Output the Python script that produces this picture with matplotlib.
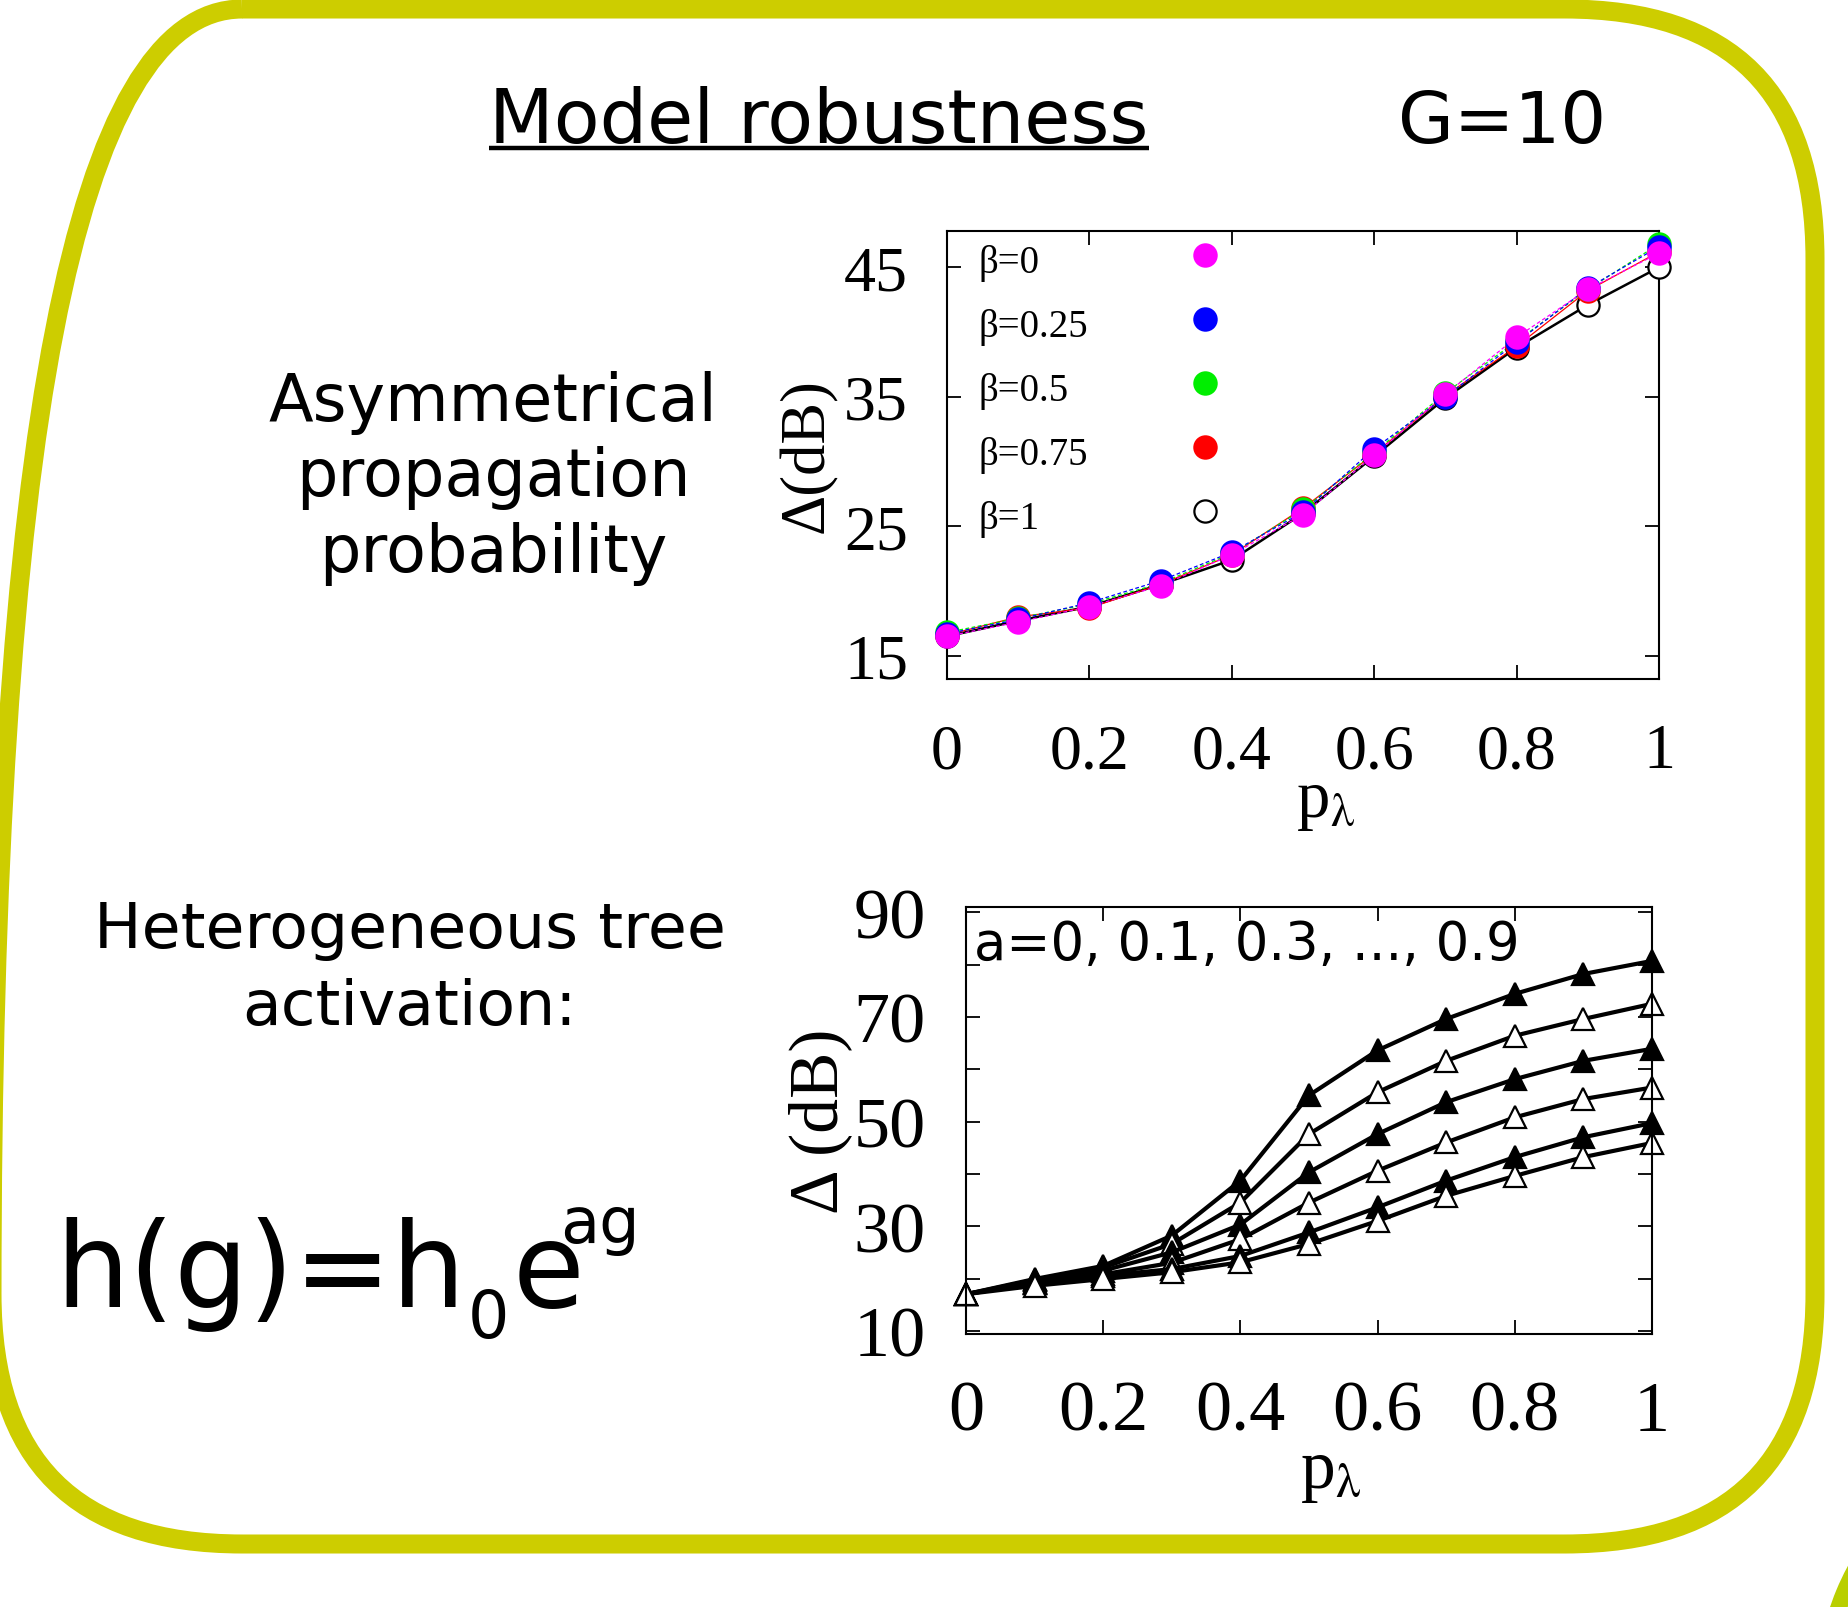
import matplotlib
matplotlib.use("Agg")
import matplotlib.pyplot as plt
from matplotlib.patches import FancyBboxPatch, Arc

plt.rcParams['font.family'] = ['DejaVu Sans']
plt.rcParams['mathtext.fontset'] = 'stix'

SERIF = 'Liberation Serif'

# ---- data: asymmetrical propagation probability (G=10) ----
p_lambda = [0.0, 0.1, 0.2, 0.3, 0.4, 0.5, 0.6, 0.7, 0.8, 0.9, 1.0]
delta_beta_0 = [16.5, 17.6, 18.8, 20.4, 22.8, 25.9, 30.5, 35.2, 39.6, 43.3, 46.1]
delta_beta_025 = [16.7, 17.8, 19.1, 20.8, 23.0, 26.1, 31.0, 35.0, 39.2, 43.4, 46.6]
delta_beta_05 = [16.8, 17.9, 19.0, 20.6, 22.9, 26.3, 30.7, 35.3, 39.3, 43.3, 46.8]
delta_beta_075 = [16.6, 18.0, 18.7, 20.5, 22.8, 26.4, 30.6, 35.1, 38.9, 43.2, 46.2]
delta_beta_1 = [16.5, 17.7, 18.8, 20.5, 22.4, 26.0, 30.4, 34.9, 38.8, 42.1, 45.0]
beta_labels = ["β=0", "β=0.25", "β=0.5", "β=0.75", "β=1"]

# ---- data: heterogeneous tree activation, a = 0, 0.1, 0.3, ..., 0.9 ----
delta_a0 = [17.0, 18.6, 19.9, 21.2, 23.1, 26.6, 31.0, 35.8, 39.6, 43.2, 45.9]
delta_a01 = [17.0, 19.1, 20.5, 21.8, 24.3, 28.8, 33.6, 38.7, 43.2, 47.0, 49.7]
delta_a03 = [17.0, 19.2, 20.8, 23.0, 27.5, 34.5, 40.6, 46.0, 50.8, 54.3, 56.5]
delta_a05 = [17.0, 19.4, 21.5, 25.0, 30.3, 40.3, 47.6, 53.7, 58.1, 61.6, 63.9]
delta_a07 = [17.0, 19.7, 22.1, 26.6, 34.5, 47.6, 55.6, 61.6, 66.4, 69.6, 72.5]
delta_a09 = [17.0, 19.9, 22.4, 28.2, 38.7, 55.0, 63.6, 69.6, 74.4, 78.2, 80.7]

x_ticks = [0, 0.2, 0.4, 0.6, 0.8, 1.0]
x_ticklabels = ["0", "0.2", "0.4", "0.6", "0.8", "1"]
top_yticks = [15, 25, 35, 45]
bot_yticks = [10, 30, 50, 70, 90]
bot_yminor = [20, 40, 60, 80]

fig = plt.figure(figsize=(18.49, 16.08), dpi=100)

# background layer in pixel units for the frame and free text
bg = fig.add_axes([0, 0, 1, 1])
bg.set_xlim(0, 1849)
bg.set_ylim(1608, 0)
bg.axis('off')
bg.add_patch(FancyBboxPatch((-8, 10), 1823, 1535, boxstyle="round,pad=0,rounding_size=250",
                            fc='none', ec='#cdcd00', lw=13.7))
bg.add_patch(Arc((2075, 1690), 500, 500, ec='#b9cf00', lw=12))

renderer = fig.canvas.get_renderer()

title = bg.text(819, 143, "Model robustness", fontsize=54, ha='center', va='baseline')
bb = title.get_window_extent(renderer)
bg.plot([bb.x0, bb.x1], [149, 149], color='black', lw=3.2, solid_capstyle='butt')
bg.text(1398, 143, "G=10", fontsize=52, va='baseline')

for line, y in zip(["Asymmetrical", "propagation", "probability"], [421, 496, 572]):
    bg.text(493, y, line, fontsize=47, ha='center', va='baseline')
for line, y in zip(["Heterogeneous tree", "activation:"], [948, 1025]):
    bg.text(410, y, line, fontsize=45.5, ha='center', va='baseline')

# h(g)=h_0 e^{ag} built from pieces
t = bg.text(55, 1307, "h(g)=h", fontsize=84, va='baseline')
bb = t.get_window_extent(renderer)
t = bg.text(bb.x1 + 2, 1338, "0", fontsize=47, va='baseline')
bb = t.get_window_extent(renderer)
t = bg.text(bb.x1 + 4, 1307, "e", fontsize=84, va='baseline')
bb = t.get_window_extent(renderer)
bg.text(bb.x1 - 24, 1243, "ag", fontsize=46, va='baseline')


def style_axes(ax, labelsize, xpad, ypad):
    ax.tick_params(which='both', direction='in', top=True, right=True, length=10, width=1.3)
    ax.tick_params(axis='x', pad=xpad)
    ax.tick_params(axis='y', pad=ypad)
    for s in ax.spines.values():
        s.set_linewidth(1.5)
    ax.set_xlim(0, 1)
    ax.set_xticks(x_ticks, x_ticklabels, fontsize=labelsize, fontfamily=SERIF)


# ---- top panel ----
ax1 = fig.add_axes([0.5122, 0.5771, 0.3851, 0.2786])
ax1.set_ylim(13.2, 47.8)
style_axes(ax1, 46, 32, 28)
ax1.set_yticks(top_yticks, [str(v) for v in top_yticks], fontsize=46, fontfamily=SERIF)

series = [
    (delta_beta_1, 'black', 'white', '-', 1.8),
    (delta_beta_075, 'red', 'red', '-', 0.9),
    (delta_beta_05, '#00ee00', '#00ee00', (0, (3, 2)), 0.9),
    (delta_beta_025, 'blue', 'blue', (0, (3, 2)), 0.9),
    (delta_beta_0, 'magenta', 'magenta', (0, (3, 2)), 0.9),
]
for vals, col, face, ls, lw in series:
    ax1.plot(p_lambda, vals, color=col, ls=ls, lw=lw, zorder=2)
for vals, col, face, ls, lw in series:
    ax1.plot(p_lambda, vals, ls='none', marker='o', ms=16, mfc=face,
             mec='black' if col == 'black' else col, mew=1.6, zorder=3, clip_on=False)

legend_cols = ['magenta', 'blue', '#00ee00', 'red', 'white']
for i, (lab, col) in enumerate(zip(beta_labels, legend_cols)):
    yb = 0.9085 - i * 0.1429
    ax1.text(0.0435, yb, lab, transform=ax1.transAxes, fontsize=28,
             fontfamily=SERIF, va='baseline')
    ax1.plot([0.362], [yb + 0.038], transform=ax1.transAxes, marker='o', ms=16,
             mfc=col, mec='black' if col == 'white' else col, mew=1.6, ls='none')

ax1.set_ylabel("Δ(dB)", fontsize=45, fontfamily=SERIF)
ax1.yaxis.set_label_coords(-0.174, 0.5)
ax1.yaxis.label.set_va('baseline')
ax1.set_xlabel(r"p$_{\mathrm{\lambda}}$", fontsize=48, fontfamily=SERIF)
ax1.xaxis.set_label_coords(0.531, -0.305)
ax1.xaxis.label.set_va('baseline')

# ---- bottom panel ----
ax2 = fig.add_axes([0.5224, 0.1698, 0.3710, 0.2655])
ax2.set_ylim(9.4, 91)
style_axes(ax2, 52, 33, 29)
ax2.set_yticks(bot_yticks, [str(v) for v in bot_yticks], fontsize=52, fontfamily=SERIF)
ax2.set_yticks(bot_yminor, minor=True)

curves = [
    (delta_a09, 'black'),
    (delta_a07, 'white'),
    (delta_a05, 'black'),
    (delta_a03, 'white'),
    (delta_a01, 'black'),
    (delta_a0, 'white'),
]
for vals, face in curves:
    ax2.plot(p_lambda, vals, color='black', lw=3.0, marker='^', ms=16, mfc=face,
             mec='black', mew=1.6, clip_on=False)

ax2.text(0.012, 0.975, "a=0, 0.1, 0.3, ..., 0.9", transform=ax2.transAxes,
         fontsize=38, va='top', ha='left')

ax2.set_ylabel("Δ (dB)", fontsize=50, fontfamily=SERIF)
ax2.yaxis.set_label_coords(-0.188, 0.5)
ax2.yaxis.label.set_va('baseline')
ax2.set_xlabel(r"p$_{\mathrm{\lambda}}$", fontsize=50, fontfamily=SERIF)
ax2.xaxis.set_label_coords(0.532, -0.358)
ax2.xaxis.label.set_va('baseline')

fig.savefig("out.png", dpi=100)
